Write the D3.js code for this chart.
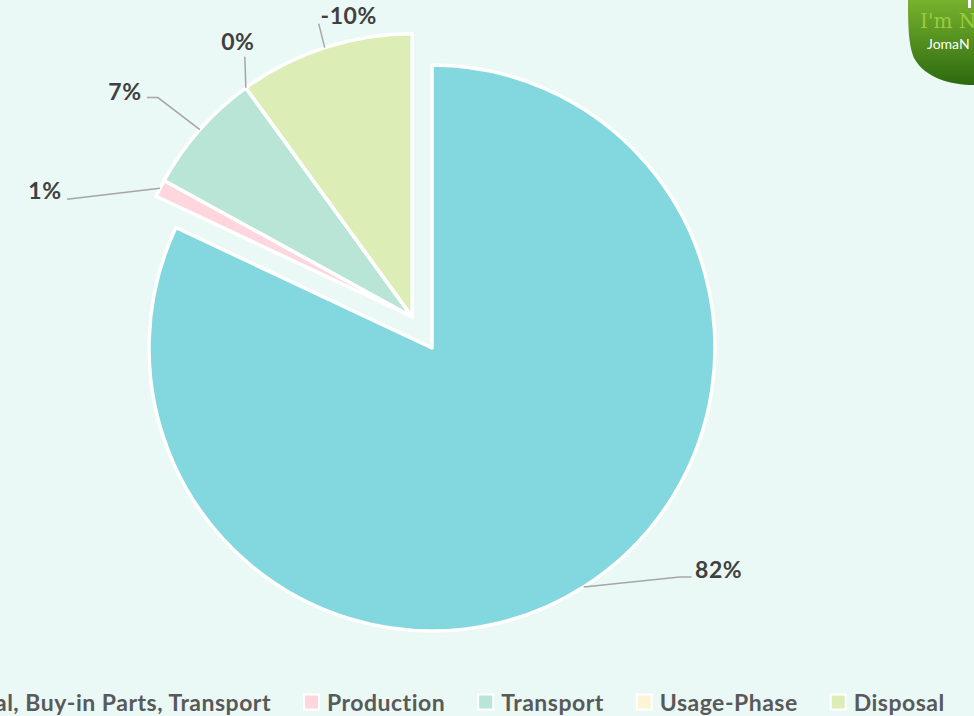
<!DOCTYPE html>
<html><head><meta charset="utf-8">
<script src="https://cdn.jsdelivr.net/npm/d3@7"></script>
<style>
html,body{margin:0;padding:0;background:#EAF9F6;overflow:hidden}
svg{display:block}
</style></head>
<body>
<svg id="chart" width="974" height="716"></svg>
<script>
const categories = ["Raw Material, Buy-in Parts, Transport", "Production", "Transport", "Usage-Phase", "Disposal"];
const values = [82, 1, 7, 0, -10];
const colors = ["#83D7DF", "#FDD6DE", "#B8E5D6", "#FAF5D5", "#DCEDB6"];

const W = 974, H = 716;
const svg = d3.select("#chart");
svg.append("rect").attr("width", W).attr("height", H).attr("fill", "#EAF9F6");

const cx = 432, cy = 348, R = 283, explode = 37;
const pie = d3.pie().value(d => Math.abs(d)).sort(null);
const arcs = pie(values);
const arcGen = d3.arc().innerRadius(0).outerRadius(R);

// exploded group (all but first slice) moves along its combined mid-angle
const gMid = (arcs[1].startAngle + arcs[arcs.length - 1].endAngle) / 2;
const ox = Math.sin(gMid) * explode, oy = -Math.cos(gMid) * explode;
const centerOf = i => i === 0 ? [cx, cy] : [cx + ox, cy + oy];

const fmt = d3.formatLocale({decimal: ".", thousands: ",", grouping: [3], currency: ["", ""], minus: "-"}).format(".0%");
const FONT = "Lato, 'Open Sans', sans-serif";

const g = svg.append("g");
arcs.forEach((a, i) => {
  const [x, y] = centerOf(i);
  g.append("path")
    .attr("d", arcGen(a))
    .attr("transform", `translate(${x},${y})`)
    .attr("fill", colors[i])
    .attr("stroke", "#FFFFFF")
    .attr("stroke-width", 3.5)
    .attr("stroke-linejoin", "round");
});

// label layout: offsets from the anchor point on the outer arc
const labelLayout = [
  {pts: [[96, -10], [108, -10]], lab: [135, -18]},
  {pts: [[-93, 11]], lab: [-115, 2]},
  {pts: [[-42, -32], [-53, -32]], lab: [-75, -39]},
  {pts: [[-1, -31]], lab: [-8, -47]},
  {pts: [[-6, -24]], lab: [24, -33]}
];

const lab = svg.append("g");
arcs.forEach((a, i) => {
  const [x, y] = centerOf(i);
  const m = (a.startAngle + a.endAngle) / 2;
  const ax = x + Math.sin(m) * R, ay = y - Math.cos(m) * R;
  const L = labelLayout[i];
  const line = [[ax, ay]].concat(L.pts.map(p => [ax + p[0], ay + p[1]]));
  lab.append("path")
    .attr("d", d3.line()(line))
    .attr("fill", "none")
    .attr("stroke", "#A6A6A6")
    .attr("stroke-width", 1.5);
  lab.append("text")
    .attr("x", ax + L.lab[0]).attr("y", ay + L.lab[1])
    .attr("text-anchor", "middle")
    .attr("dominant-baseline", "central")
    .attr("font-family", FONT)
    .attr("font-weight", "bold")
    .attr("font-size", 23)
    .attr("letter-spacing", 0.6)
    .attr("fill", "#404040")
    .text(fmt(values[i] / 100));
});

// legend
const leg = svg.append("g").attr("font-family", FONT)
  .attr("font-weight", "bold").attr("font-size", 23).attr("letter-spacing", 0.5).attr("fill", "#595959");
const legY = 702;
let xText = 271; // end of first item's text
categories.forEach((c, i) => {
  const t = leg.append("text").attr("y", legY).attr("dominant-baseline", "central").text(c);
  if (i === 0) {
    t.attr("x", xText).attr("text-anchor", "end");
    const start = xText - t.node().getComputedTextLength();
    leg.append("rect").attr("x", start - 23).attr("y", legY - 7.5).attr("width", 15).attr("height", 15)
      .attr("fill", colors[0]).attr("stroke", "#FFFFFF").attr("stroke-width", 2);
  } else {
    const keyX = xText + 33;
    t.attr("x", keyX + 23);
    leg.append("rect").attr("x", keyX).attr("y", legY - 7.5).attr("width", 15).attr("height", 15)
      .attr("fill", colors[i]).attr("stroke", "#FFFFFF").attr("stroke-width", 2);
    xText = keyX + 23 + t.node().getComputedTextLength();
  }
});

// logo (partially visible, top-right)
const defs = svg.append("defs");
const grad = defs.append("linearGradient").attr("id", "lg").attr("x1", 0).attr("y1", 0).attr("x2", 0).attr("y2", 1);
grad.append("stop").attr("offset", "0%").attr("stop-color", "#78B22E");
grad.append("stop").attr("offset", "100%").attr("stop-color", "#2C6A10");
svg.append("path")
  .attr("d", "M908,0 L974,0 L974,85 C950,85 925,78 914,58 C908,45 908,20 908,0 Z")
  .attr("fill", "url(#lg)");
svg.append("text").attr("x", 920).attr("y", 28).attr("font-family", "'DejaVu Serif', serif")
  .attr("font-size", 20).attr("fill", "#9CCC3C").text("I'm N");
svg.append("text").attr("x", 927).attr("y", 49).attr("font-family", FONT)
  .attr("font-size", 14).attr("fill", "#FFFFFF").text("JomaN");
svg.append("rect").attr("x", 968).attr("y", 0).attr("width", 3).attr("height", 8).attr("fill", "#FFFFFF");
</script>
</body></html>
